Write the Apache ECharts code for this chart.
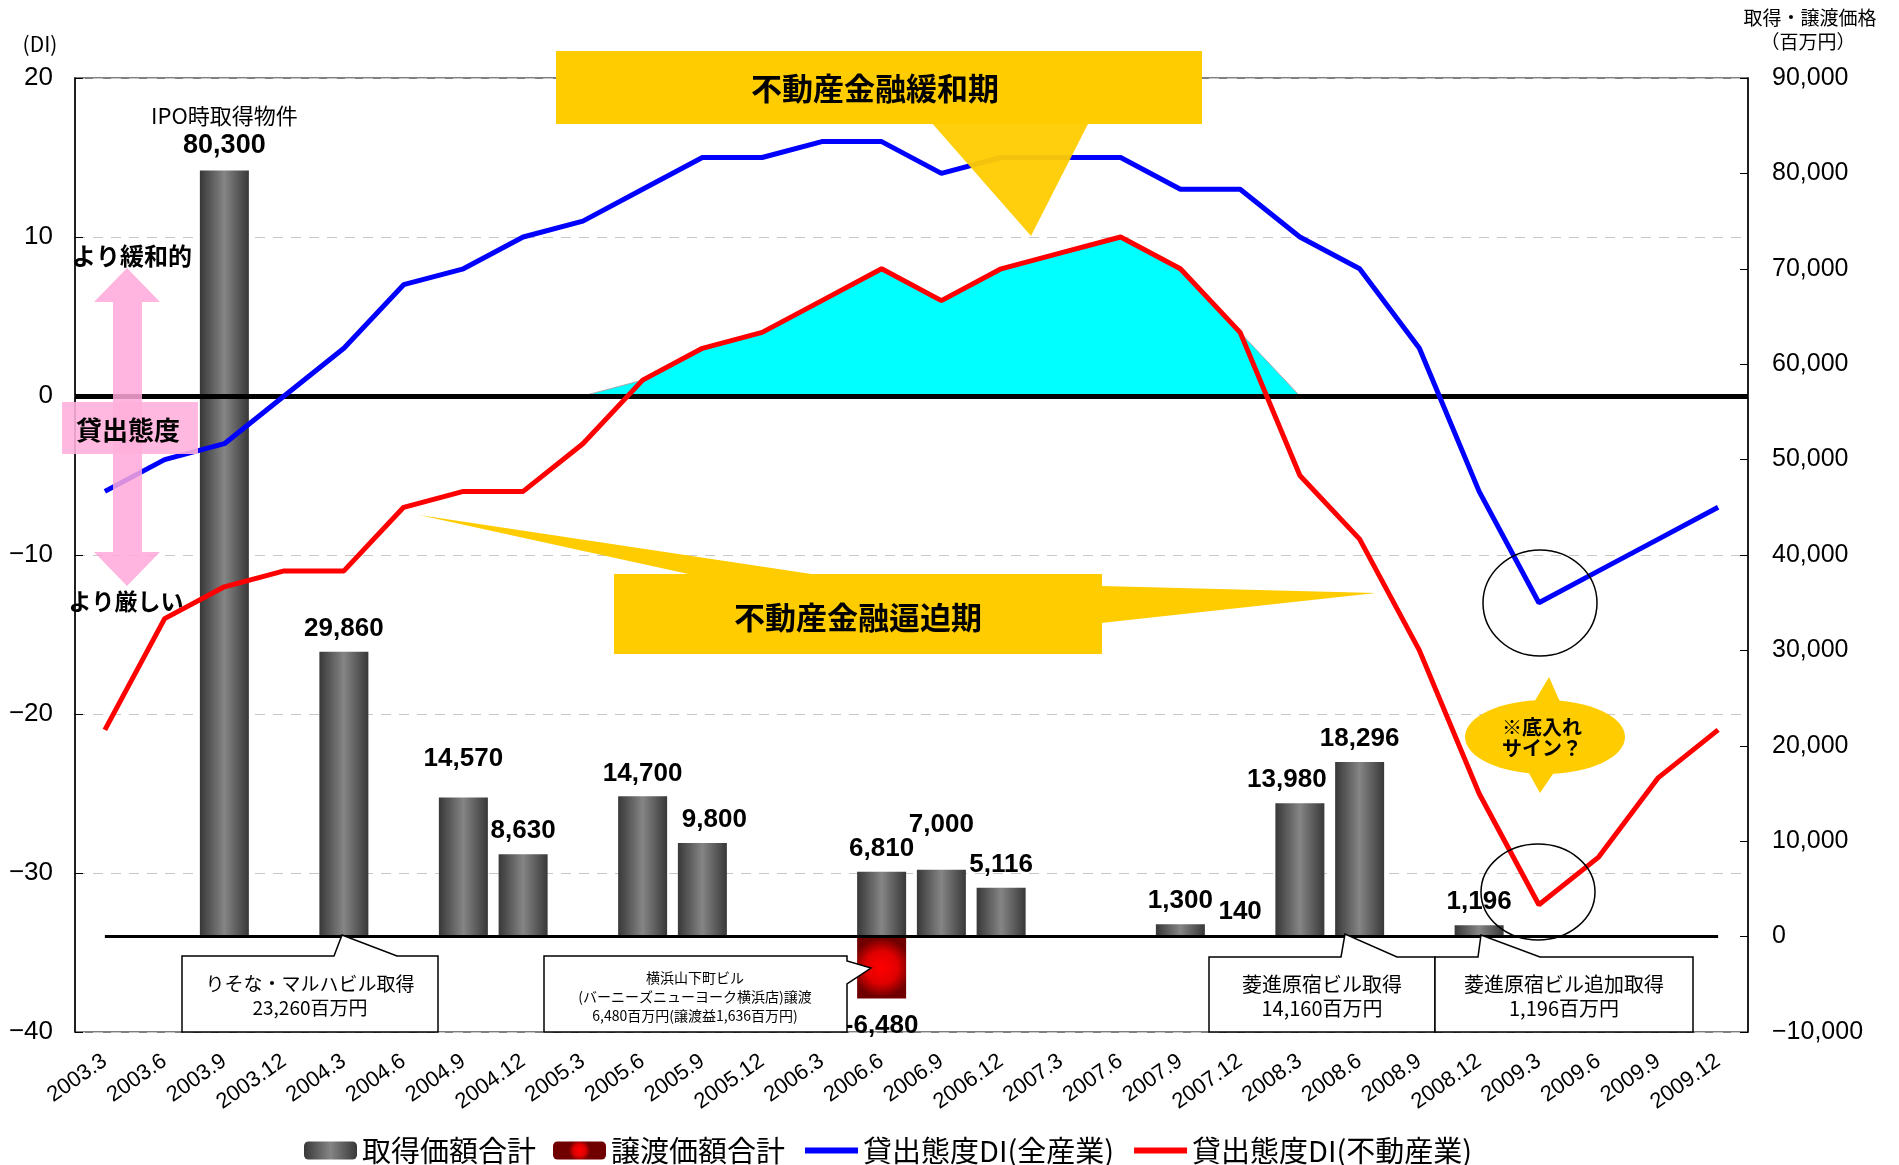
<!DOCTYPE html>
<html><head><meta charset="utf-8">
<script src="https://cdn.jsdelivr.net/npm/echarts@6/dist/echarts.min.js"></script>
<style>html,body{margin:0;padding:0;background:#fff}#c{width:1899px;height:1165px}</style>
</head><body><div id="c"></div>
<script>
const categories = ['2003.3','2003.6','2003.9','2003.12','2004.3','2004.6','2004.9','2004.12','2005.3','2005.6','2005.9','2005.12','2006.3','2006.6','2006.9','2006.12','2007.3','2007.6','2007.9','2007.12','2008.3','2008.6','2008.9','2008.12','2009.3','2009.6','2009.9','2009.12'];
const acquisition = [null,null,80300,null,29860,null,14570,8630,null,14700,9800,null,null,6810,7000,5116,null,null,1300,140,13980,18296,null,1196,null,null,null,null];
const disposition = [null,null,null,null,null,null,null,null,null,null,null,null,null,-6480,null,null,null,null,null,null,null,null,null,null,null,null,null,null];
const diAll = [-6,-4,-3,0,3,7,8,10,11,13,15,15,16,16,14,15,15,15,13,13,10,8,3,-6,-13,-11,-9,-7];
const diRealEstate = [-21,-14,-12,-11,-11,-7,-6,-6,-3,1,3,4,6,8,6,8,9,10,8,4,-5,-9,-16,-25,-32,-29,-24,-21];
const easingArea = [null,null,null,null,null,null,null,null,0,1,3,4,6,8,6,8,9,10,8,4,0,null,null,null,null,null,null,null];
const seriesNames = ['取得価額合計','譲渡価額合計','貸出態度DI(全産業)','貸出態度DI(不動産業)'];

const FONT = "'Liberation Sans', 'Noto Sans CJK JP', sans-serif";
const JP = "'Noto Sans CJK JP', sans-serif";
const fmt = v => Number(v).toLocaleString('en-US').replace('-', '−');
const fmtBar = v => Number(v).toLocaleString('en-US');
const labelTweaks = {6:{offset:[0,-16]}, 10:{offset:[12,0]}, 14:{offset:[0,-22]}, 20:{offset:[-13,0]}};

const grayGrad = new echarts.graphic.LinearGradient(0,0,1,0,[{offset:0,color:'#383838'},{offset:0.5,color:'#858585'},{offset:1,color:'#383838'}]);
const redGrad = new echarts.graphic.RadialGradient(0.5,0.5,0.6,[{offset:0,color:'#ff0000'},{offset:0.55,color:'#e00000'},{offset:1,color:'#700000'}]);

const acqData = acquisition.map((v,i) => {
  if (v == null) return null;
  const item = {value: v};
  if (i === 2) {
    item.label = {formatter: '{t|IPO時取得物件}\n{v|' + fmtBar(v) + '}', distance: 10};
  } else if (labelTweaks[i]) {
    item.label = labelTweaks[i];
  }
  return item;
});

const hiddenSymbol = {color: 'rgba(0,0,0,0)', borderColor: 'rgba(0,0,0,0)', borderWidth: 0, opacity: 0};
const legendData = [
  {name: seriesNames[0]},
  {name: seriesNames[1]},
  {name: seriesNames[2], itemStyle: hiddenSymbol, lineStyle: {width: 6, color: '#0000FF'}},
  {name: seriesNames[3], itemStyle: hiddenSymbol, lineStyle: {width: 6, color: '#FF0000'}}
];

const yellow = '#FFCC00';
const chart = echarts.init(document.getElementById('c'));
chart.setOption({
  animation: false,
  textStyle: {fontFamily: FONT},
  grid: {left: 75, right: 151, top: 78, bottom: 133, show: true, borderColor: '#555', borderWidth: 1.5},
  legend: {
    data: legendData, top: 1136, left: 304, itemWidth: 53, itemHeight: 18, itemGap: 17, padding: 0,
    textStyle: {fontSize: 29, color: '#000', fontFamily: JP}
  },
  xAxis: {
    type: 'category', data: categories, boundaryGap: true,
    axisLine: {show: true, lineStyle: {color: '#555', width: 1.5}},
    axisTick: {show: false},
    axisLabel: {interval: 0, rotate: 35, fontSize: 22, color: '#000', margin: 27}
  },
  yAxis: [
    {type: 'value', min: -40, max: 20, interval: 10, position: 'left',
     axisLine: {show: true, lineStyle: {color: '#000', width: 1.5}},
     axisTick: {show: true, inside: true, length: 8, lineStyle: {color: '#000'}},
     axisLabel: {fontSize: 26, color: '#000', margin: 22, formatter: v => String(v).replace('-', '−')},
     splitLine: {show: true, lineStyle: {color: '#c8c8c8', type: [10, 8], width: 1.2}}},
    {type: 'value', min: -10000, max: 90000, interval: 10000, position: 'right',
     axisLine: {show: true, lineStyle: {color: '#000', width: 1.5}},
     axisTick: {show: true, inside: true, length: 8, lineStyle: {color: '#000'}},
     axisLabel: {fontSize: 25, color: '#000', margin: 24, formatter: v => fmt(v)},
     splitLine: {show: false}}
  ],
  series: [
    {name: seriesNames[0], type: 'bar', yAxisIndex: 1, barWidth: 49, barGap: '-100%', z: 2,
     itemStyle: {color: grayGrad},
     label: {show: true, position: 'top', distance: 10, fontSize: 26, fontWeight: 'bold', color: '#000',
             formatter: p => fmtBar(p.value),
             rich: {t: {fontSize: 22, fontWeight: 'normal', color: '#000', fontFamily: JP, lineHeight: 30, align: 'center'},
                    v: {fontSize: 27, fontWeight: 'bold', color: '#000', lineHeight: 30, align: 'center'}}},
     data: acqData,
     markLine: {silent: true, symbol: 'none', label: {show: false}, lineStyle: {color: '#000', width: 3, type: 'solid'},
                data: [[{coord: [categories[0], 0]}, {coord: [categories[categories.length - 1], 0]}]]}},
    {name: seriesNames[1], type: 'bar', yAxisIndex: 1, barWidth: 49, barGap: '-100%', z: 2,
     itemStyle: {color: redGrad},
     label: {show: true, position: 'bottom', distance: 14, fontSize: 26, fontWeight: 'bold', color: '#000',
             formatter: p => fmtBar(p.value)},
     data: disposition},
    {name: 'easing', type: 'line', yAxisIndex: 0, z: 3, symbol: 'none', data: easingArea,
     lineStyle: {color: '#aaaaaa', width: 1}, areaStyle: {color: '#00FFFF', opacity: 1}},
    {name: 'zero', type: 'line', yAxisIndex: 0, z: 4, data: [],
     markLine: {silent: true, symbol: 'none', label: {show: false}, lineStyle: {color: '#000', width: 5, type: 'solid'},
                data: [{yAxis: 0}]}},
    {name: seriesNames[2], type: 'line', yAxisIndex: 0, z: 5, symbol: 'none', data: diAll,
     lineStyle: {color: '#0000FF', width: 5}, itemStyle: {color: '#0000FF'}},
    {name: seriesNames[3], type: 'line', yAxisIndex: 0, z: 5, symbol: 'none', data: diRealEstate,
     lineStyle: {color: '#FF0000', width: 5}, itemStyle: {color: '#FF0000'}}
  ],
  graphic: [
    {type: 'text', x: 40, y: 44, style: {text: '(DI)', fontSize: 21, fontFamily: JP, fill: '#000', align: 'center', verticalAlign: 'middle'}},
    {type: 'text', x: 1810, y: 18, style: {text: '取得・譲渡価格', fontSize: 19, fontFamily: JP, fill: '#000', align: 'center', verticalAlign: 'middle'}},
    {type: 'text', x: 1808, y: 42, style: {text: '（百万円）', fontSize: 19, fontFamily: JP, fill: '#000', align: 'center', verticalAlign: 'middle'}},
    {type: 'polygon', shape: {points: [[931,122],[1089,122],[1031,236]]}, style: {fill: yellow, opacity: 0.95}, z: 100},
    {type: 'rect', shape: {x: 556, y: 51, width: 646, height: 73}, style: {fill: yellow}, z: 100},
    {type: 'text', x: 875, y: 88, z: 101, style: {text: '不動産金融緩和期', fontSize: 31, fontWeight: 'bold', fontFamily: JP, fill: '#000', align: 'center', verticalAlign: 'middle'}},
    {type: 'polygon', shape: {points: [[419,515],[818,575],[693,575]]}, style: {fill: yellow}, z: 100},
    {type: 'polygon', shape: {points: [[1101,586],[1376,593],[1101,623]]}, style: {fill: yellow}, z: 100},
    {type: 'rect', shape: {x: 614, y: 574, width: 488, height: 80}, style: {fill: yellow}, z: 100},
    {type: 'text', x: 858, y: 617, z: 101, style: {text: '不動産金融逼迫期', fontSize: 31, fontWeight: 'bold', fontFamily: JP, fill: '#000', align: 'center', verticalAlign: 'middle'}},
    {type: 'polygon', shape: {points: [[1533,704],[1549,677],[1561,704]]}, style: {fill: yellow}, z: 100},
    {type: 'polygon', shape: {points: [[1526,768],[1540,793],[1557,768]]}, style: {fill: yellow}, z: 100},
    {type: 'ellipse', shape: {cx: 1545, cy: 737, rx: 80, ry: 37}, style: {fill: yellow}, z: 100},
    {type: 'text', x: 1542, y: 738, z: 101, style: {text: '※底入れ\nサイン？', fontSize: 20, lineHeight: 21, fontWeight: 'bold', fontFamily: JP, fill: '#000', align: 'center', verticalAlign: 'middle'}},
    {type: 'ellipse', shape: {cx: 1540, cy: 603, rx: 57, ry: 53}, style: {fill: 'none', stroke: '#000', lineWidth: 1.5}, z: 100},
    {type: 'ellipse', shape: {cx: 1538, cy: 892, rx: 57, ry: 48}, style: {fill: 'none', stroke: '#000', lineWidth: 1.5}, z: 100},
    {type: 'polygon', shape: {points: [[127,268],[160,302],[142,302],[142,552],[160,552],[127,586],[94,552],[113,552],[113,302],[94,302]]}, style: {fill: '#FFA8DA', opacity: 0.85}, z: 100},
    {type: 'rect', shape: {x: 62, y: 402, width: 136, height: 52}, style: {fill: '#FFB0DC', opacity: 0.9}, z: 100},
    {type: 'text', x: 128, y: 430, z: 101, style: {text: '貸出態度', fontSize: 26, fontWeight: 'bold', fontFamily: JP, fill: '#000', align: 'center', verticalAlign: 'middle'}},
    {type: 'text', x: 132, y: 256, z: 101, style: {text: 'より緩和的', fontSize: 24, fontWeight: 'bold', fontFamily: JP, fill: '#000', align: 'center', verticalAlign: 'middle'}},
    {type: 'text', x: 126, y: 601, z: 101, style: {text: 'より厳しい', fontSize: 23, fontWeight: 'bold', fontFamily: JP, fill: '#000', align: 'center', verticalAlign: 'middle'}},
    {type: 'polygon', shape: {points: [[182,956],[334,956],[342,935],[397,956],[438,956],[438,1032],[182,1032]]}, style: {fill: '#fff', stroke: '#000', lineWidth: 1.5}, z: 100},
    {type: 'text', x: 310, y: 996, z: 101, style: {text: 'りそな・マルハビル取得\n23,260百万円', fontSize: 19, lineHeight: 24, fontFamily: JP, fill: '#000', align: 'center', verticalAlign: 'middle'}},
    {type: 'polygon', shape: {points: [[544,956],[847,956],[847,961],[871,968],[847,984],[847,1032],[544,1032]]}, style: {fill: '#fff', stroke: '#000', lineWidth: 1.5}, z: 100},
    {type: 'text', x: 695, y: 997, z: 101, style: {text: '横浜山下町ビル\n(バーニーズニューヨーク横浜店)譲渡\n6,480百万円(譲渡益1,636百万円)', fontSize: 14, lineHeight: 19, fontFamily: JP, fill: '#000', align: 'center', verticalAlign: 'middle'}},
    {type: 'polygon', shape: {points: [[1209,957],[1341,957],[1345,934],[1397,957],[1435,957],[1435,1032],[1209,1032]]}, style: {fill: '#fff', stroke: '#000', lineWidth: 1.5}, z: 100},
    {type: 'text', x: 1322, y: 996, z: 101, style: {text: '菱進原宿ビル取得\n14,160百万円', fontSize: 20, lineHeight: 24, fontFamily: JP, fill: '#000', align: 'center', verticalAlign: 'middle'}},
    {type: 'polygon', shape: {points: [[1435,957],[1478,957],[1481,935],[1540,957],[1693,957],[1693,1032],[1435,1032]]}, style: {fill: '#fff', stroke: '#000', lineWidth: 1.5}, z: 100},
    {type: 'text', x: 1564, y: 996, z: 101, style: {text: '菱進原宿ビル追加取得\n1,196百万円', fontSize: 20, lineHeight: 24, fontFamily: JP, fill: '#000', align: 'center', verticalAlign: 'middle'}}
  ]
});
</script></body></html>
